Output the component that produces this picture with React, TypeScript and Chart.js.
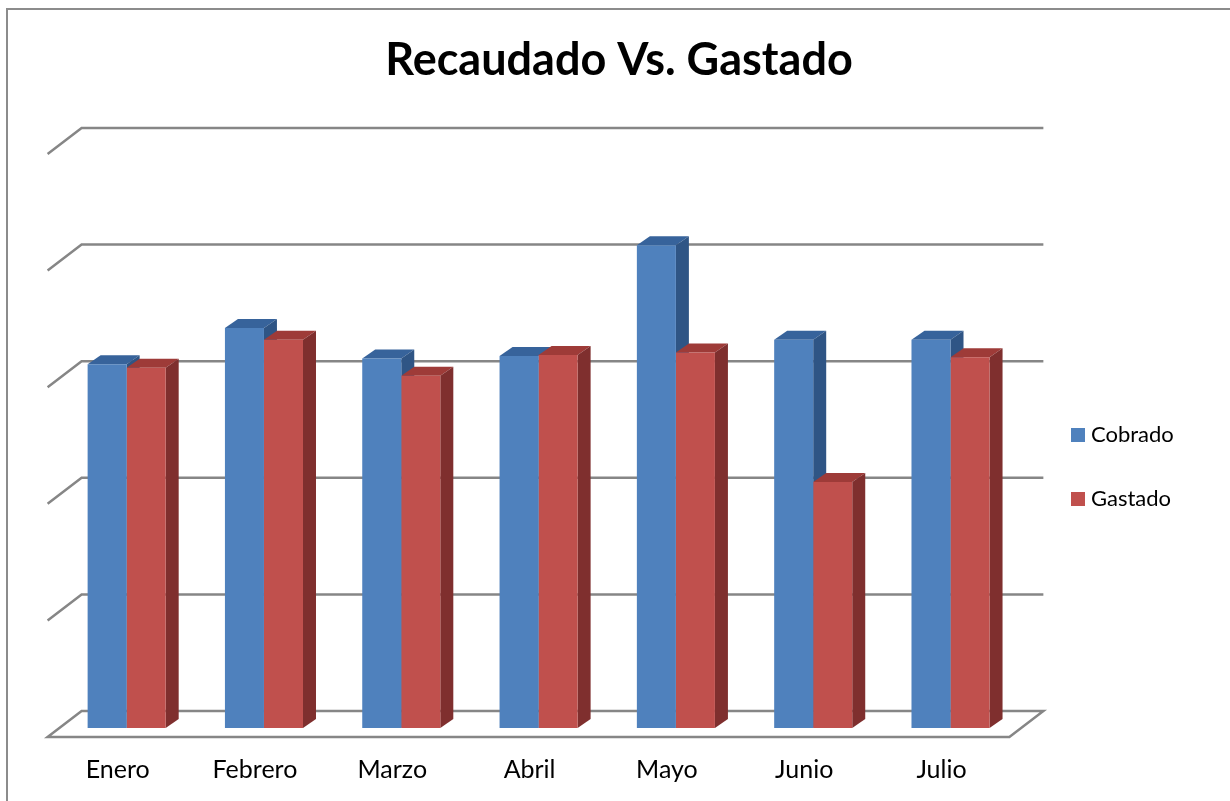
import React, { useEffect, useRef } from "react";
import { Chart, registerables } from "chart.js";

Chart.register(...registerables);

const categories = ["Enero", "Febrero", "Marzo", "Abril", "Mayo", "Junio", "Julio"];
const cobrado = [3.12, 3.43, 3.17, 3.19, 4.14, 3.33, 3.33];
const gastado = [3.09, 3.33, 3.02, 3.2, 3.22, 2.11, 3.18];
const FONT = "Lato, Carlito, Calibri, sans-serif";

const faces: Record<string, { top: string; side: string }> = {
  Cobrado: { top: "#37639b", side: "#2f5585" },
  Gastado: { top: "#9e3b38", side: "#7f2f2e" },
};

const poly = (ctx: CanvasRenderingContext2D, pts: number[][], fill: string) => {
  ctx.beginPath();
  pts.forEach(([x, y], i) => (i ? ctx.lineTo(x, y) : ctx.moveTo(x, y)));
  ctx.closePath();
  ctx.fillStyle = fill;
  ctx.fill();
};

const frame3d = {
  id: "frame3d",
  afterLayout(chart: any) {
    const { legend, titleBlock } = chart;
    if (legend) {
      const w = legend.width;
      legend.left = 1034;
      legend.right = 1034 + w;
      legend.top += 66.5;
      legend.bottom += 66.5;
    }
    if (titleBlock) {
      titleBlock.left = 8;
      titleBlock.right = 1230;
    }
  },
  beforeDraw(chart: any) {
    const ctx = chart.ctx;
    ctx.save();
    ctx.strokeStyle = "#8c8c8c";
    ctx.lineWidth = 2;
    ctx.beginPath();
    ctx.moveTo(7, 801);
    ctx.lineTo(7, 9);
    ctx.lineTo(1230, 9);
    ctx.stroke();
    ctx.restore();
  },
  beforeDatasetsDraw(chart: any) {
    const { ctx, chartArea: a, scales } = chart;
    const y = scales.y;
    ctx.save();
    ctx.strokeStyle = "#868686";
    ctx.lineWidth = 2.5;
    ctx.lineJoin = "miter";
    y.ticks.forEach((t: any) => {
      const py = y.getPixelForValue(t.value);
      ctx.beginPath();
      ctx.moveTo(a.left - 10.4, py + 9);
      ctx.lineTo(a.left + 23.6, py - 17);
      ctx.lineTo(a.right + 24.2, py - 17);
      if (t.value === 0) {
        ctx.lineTo(a.right - 9.8, py + 9);
        ctx.closePath();
      }
      ctx.stroke();
    });
    ctx.restore();
    // depth faces, first series first, so the second series' faces overlap the first one's side
    const dx = 13;
    const dy = 9;
    chart.data.datasets.forEach((ds: any, i: number) => {
      const c = faces[ds.label];
      chart.getDatasetMeta(i).data.forEach((b: any) => {
        const l = b.x - b.width / 2;
        const r = b.x + b.width / 2;
        poly(ctx, [[l, b.y], [l + dx, b.y - dy], [r + dx, b.y - dy], [r, b.y]], c.top);
        poly(ctx, [[r, b.y], [r + dx, b.y - dy], [r + dx, b.base - dy], [r, b.base]], c.side);
      });
    });
  },
};

export default function App() {
  const ref = useRef<HTMLCanvasElement>(null);
  useEffect(() => {
    const chart = new Chart(ref.current!, {
      type: "bar",
      data: {
        labels: categories,
        datasets: [
          { label: "Cobrado", data: cobrado, backgroundColor: "#4f81bd", borderWidth: 0 },
          { label: "Gastado", data: gastado, backgroundColor: "#c0504d", borderWidth: 0 },
        ],
      },
      options: {
        responsive: false,
        animation: false,
        layout: { padding: { left: 50, right: 61, top: 0, bottom: 0 } },
        categoryPercentage: 0.5685,
        barPercentage: 1,
        scales: {
          x: {
            grid: { display: false },
            border: { display: false },
            afterFit: (s: any) => {
              s.height = 73;
            },
            ticks: {
              color: "#000",
              font: { family: FONT, size: 25 },
              padding: 19,
              labelOffset: -9,
              maxRotation: 0,
              autoSkip: false,
            },
          },
          y: {
            min: 0,
            max: 5,
            grid: { display: false },
            border: { display: false },
            ticks: { display: false, stepSize: 1 },
          },
        },
        plugins: {
          title: {
            display: true,
            text: "Recaudado Vs. Gastado",
            color: "#000",
            font: { family: FONT, size: 45, weight: "bold" },
            padding: { top: 33, bottom: 58 },
          },
          legend: {
            position: "right",
            labels: {
              color: "#000",
              font: { family: FONT, size: 22 },
              usePointStyle: true,
              pointStyle: "rect",
              boxWidth: 4,
              boxHeight: 14,
              padding: 42,
            },
          },
          tooltip: { enabled: false },
        },
      } as any,
      plugins: [frame3d],
    });
    return () => chart.destroy();
  }, []);
  return (
    <canvas
      ref={ref}
      width={1230}
      height={801}
      style={{ position: "absolute", left: 0, top: 0, display: "block" }}
    />
  );
}
